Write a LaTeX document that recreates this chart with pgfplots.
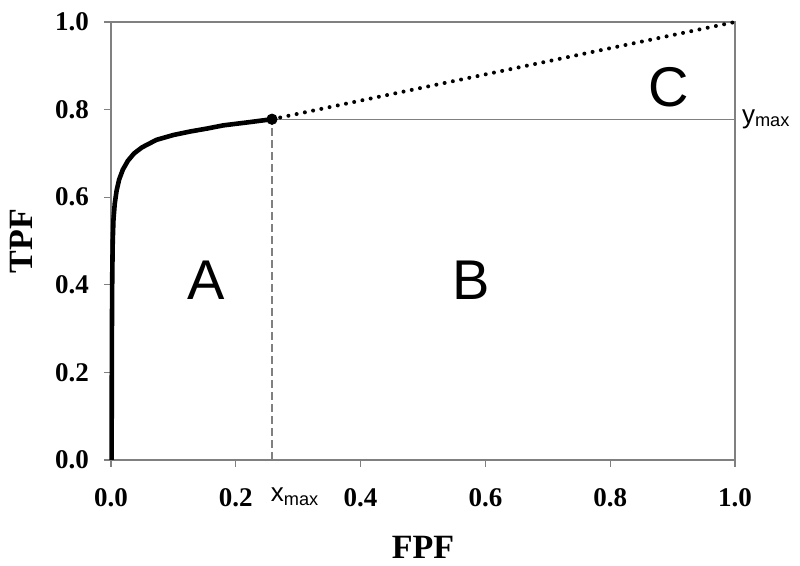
\documentclass[border=0pt]{standalone}
\usepackage{pgfplots}
\pgfplotsset{compat=1.18}
\usepackage{fontspec}
\setmainfont{Liberation Serif}
\newfontfamily\arial{Liberation Sans}

\definecolor{axgray}{HTML}{808080}

\begin{document}
\begin{tikzpicture}
\useasboundingbox (-55.5pt,-53pt) rectangle (344.5pt,230pt);
\begin{axis}[
  at={(0,0)}, anchor=south west,
  scale only axis,
  width=312pt, height=219pt,
  xmin=0, xmax=1, ymin=0, ymax=1,
  xtick={0,0.2,...,1.0}, ytick={0,0.2,...,1.0},
  tick pos=left, tick align=outside,
  major tick length=3.5pt,
  axis line style={axgray, line width=0.6pt},
  tick style={axgray, line width=0.6pt},
  /pgf/number format/assume math mode=true,
  /pgf/number format/.cd, fixed, fixed zerofill, precision=1, /pgfplots/.cd,
  ticklabel style={font=\fontsize{13.5}{15}\selectfont\bfseries},
  xticklabel style={yshift=-7pt},
  yticklabel style={xshift=-4pt},
  xlabel={FPF}, ylabel={TPF},
  label style={font=\fontsize{17}{19}\selectfont\bfseries},
  xlabel style={at={(axis description cs:0.5,-0.199)}, anchor=center},
  ylabel style={at={(axis description cs:-0.143,0.5)}, anchor=center},
  clip=false,
]
% dashed x_max line
\addplot[axgray, line width=0.6pt, dash pattern=on 4pt off 2pt] coordinates {(0.258,0) (0.258,0.778)};
% y_max line
\addplot[axgray, line width=0.6pt] coordinates {(0.258,0.778) (1,0.778)};
% dotted extrapolation
\addplot[black, line width=2pt, line cap=round, dash pattern=on 0pt off 4.2pt] coordinates {(0.258,0.778) (1,1)};
% ROC curve
\addplot[black, line width=2.3pt, line join=round] coordinates {
  (0.001,0) (0.0012,0.15) (0.0015,0.3) (0.002,0.42) (0.0028,0.5) (0.004,0.55)
  (0.006,0.585) (0.009,0.615) (0.013,0.64) (0.019,0.663) (0.027,0.683)
  (0.037,0.70) (0.05,0.714) (0.073,0.731) (0.1,0.742) (0.127,0.75)
  (0.155,0.757) (0.18,0.764) (0.22,0.771) (0.258,0.778)
};
\addplot[only marks, mark=*, mark size=2.6pt, black] coordinates {(0.258,0.778)};

\node[font=\arial\fontsize{28}{30}\selectfont] at (axis cs:0.152,0.41) {A};
\node[font=\arial\fontsize{28}{30}\selectfont] at (axis cs:0.578,0.41) {B};
\node[font=\arial\fontsize{28}{30}\selectfont] at (axis cs:0.893,0.85) {C};
\node[font=\arial\fontsize{13}{15}\selectfont, anchor=west] at (axis cs:1,0.778) {y\textsubscript{max}};
\node[font=\arial\fontsize{13}{15}\selectfont, anchor=base west] at (axis cs:0.245,0) [yshift=-21pt] {x\textsubscript{max}};
\end{axis}
\end{tikzpicture}
\end{document}
